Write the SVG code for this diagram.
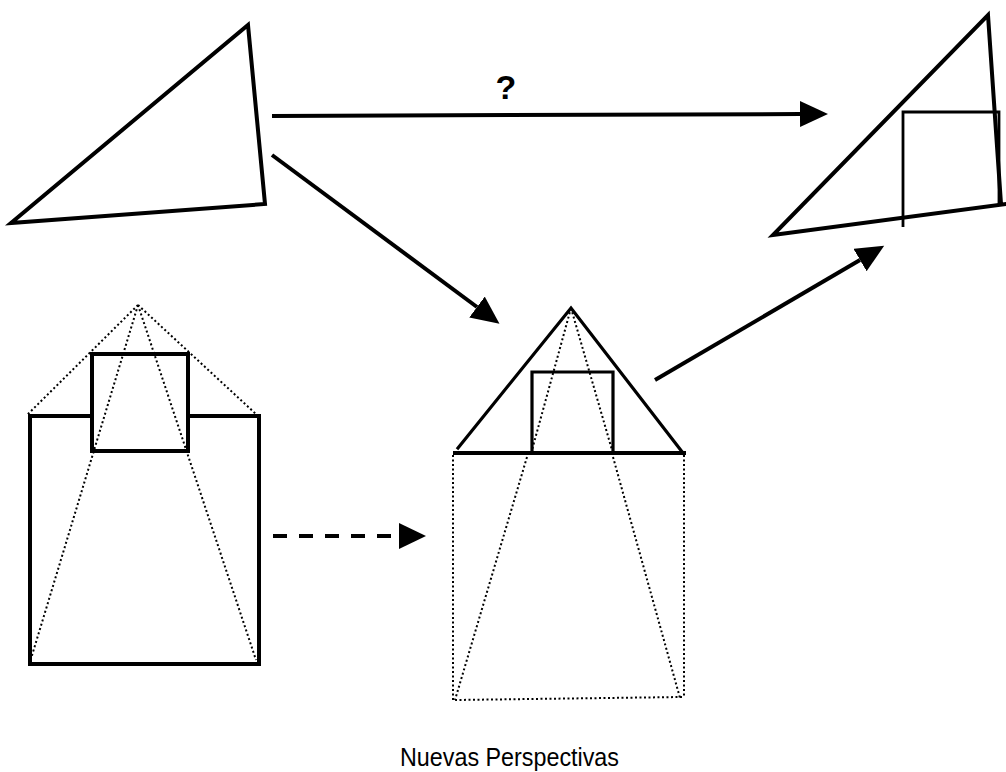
<svg xmlns="http://www.w3.org/2000/svg" width="1006" height="772" viewBox="0 0 1006 772">
<style>
.thick{fill:none;stroke:#000;stroke-width:4;stroke-linejoin:miter;stroke-linecap:square}
.med{fill:none;stroke:#000;stroke-width:3.2;stroke-linecap:square}
.thin{fill:none;stroke:#000;stroke-width:2.8}
.dot{fill:none;stroke:#000;stroke-width:2;stroke-dasharray:2 2.5}
.conn{fill:none;stroke:#000;stroke-width:4}
.lbl{font-family:"Liberation Sans",Arial,sans-serif;fill:#000}
</style>
<defs>
<marker id="ah" markerUnits="userSpaceOnUse" markerWidth="30" markerHeight="28" refX="0" refY="13" orient="auto">
<path d="M0,0 L28,13 L0,26 z" fill="#000"/>
</marker>
</defs>
<rect width="1006" height="772" fill="#fff"/>
<g id="triangle-original">
<path class="thick" d="M11,223 L248,25 L265,204 Z"/>
</g>
<g id="triangle-result">
<path class="thick" d="M1006,204 L773,235 L988,15 L1001,204"/>
<path class="thin" d="M903,227 L903,112 L999,112 L999,205"/>
</g>
<g id="house-left">
<path class="dot" d="M138,305 L27,415 M138,305 L257,415 M138,305 L30,662 M138,305 L256,660"/>
<path class="thick" d="M92,416 L30,416 L30,664 L259,664 L259,416 L188,416"/>
<rect class="thick" x="92" y="354" width="96" height="97"/>
</g>
<g id="pyramid">
<path class="dot" d="M571,308 L532,450 M571,308 L612,450 M527,457 L455,700 M613,457 L680,698 M453,455 L453,702 M684,455 L684,697 M455,700 L682,697"/>
<path class="med" d="M458,448 L571,308 L683,453"/>
<path class="thick" d="M455,453 L684,453"/>
<path class="med" d="M532,453 L532,372 L613,372 L613,453"/>
</g>
<g id="connectors">
<path class="conn" d="M272,116 L800,114" marker-end="url(#ah)"/>
<path class="conn" d="M272,155 L477,307" marker-end="url(#ah)"/>
<path class="conn" d="M655,380 L860,260" marker-end="url(#ah)"/>
<path class="conn" d="M273,536 L399,536" stroke-dasharray="14 12"/>
<path d="M399,523 L426,536 L399,549 Z" fill="#000"/>
</g>
<text class="lbl" x="506" y="99" font-size="34" font-weight="bold" text-anchor="middle">?</text>
<text class="lbl" x="400" y="766" font-size="26" textLength="219" lengthAdjust="spacingAndGlyphs">Nuevas Perspectivas</text>
</svg>
